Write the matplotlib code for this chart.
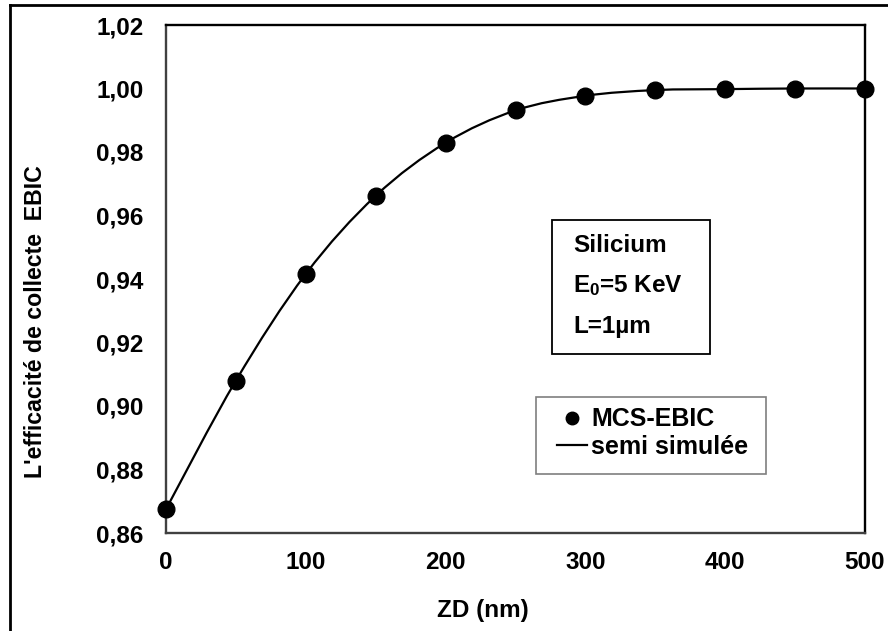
import numpy as np
import matplotlib
matplotlib.use("Agg")
import matplotlib.pyplot as plt
from matplotlib.path import Path
from matplotlib.patches import PathPatch, Rectangle
from matplotlib.lines import Line2D

# collection efficiency vs depletion zone width (ZD)
zd_nm = [0, 50, 100, 150, 200, 250, 300, 350, 400, 450, 500]
mcs_ebic = [0.8675, 0.9080, 0.9416, 0.9662, 0.9829, 0.9931, 0.9977, 0.9995, 0.9998, 1.0000, 1.0000]
semi_simulee = [0.8675, 0.9080, 0.9416, 0.9662, 0.9829, 0.9931, 0.9977, 0.9995, 0.9998, 1.0000, 1.0000]

y_ticks = [0.86, 0.88, 0.90, 0.92, 0.94, 0.96, 0.98, 1.00, 1.02]
x_ticks = [0, 100, 200, 300, 400, 500]
info_lines = ["Silicium", r"E$_{\mathbf{0}}$=5 KeV", "L=1µm"]

W, H = 888, 631
plt.rcParams["font.family"] = "Liberation Sans"
plt.rcParams["font.weight"] = "bold"
plt.rcParams["mathtext.fontset"] = "custom"
plt.rcParams["mathtext.rm"] = "Liberation Sans:bold"
plt.rcParams["mathtext.bf"] = "Liberation Sans:bold"
plt.rcParams["mathtext.default"] = "bf"
FS = 17.5


def px(x, y):
    # pixel position (top-left origin) -> figure fraction
    return x / W, 1 - y / H


def smooth_path(xs, ys, t=1 / 6):
    # Catmull-Rom style cubic segments through every point
    xs = np.asarray(xs, float)
    ys = np.asarray(ys, float)
    verts = [(xs[0], ys[0])]
    codes = [Path.MOVETO]
    n = len(xs)
    for i in range(n - 1):
        i0 = max(i - 1, 0)
        i3 = min(i + 2, n - 1)
        c1 = (xs[i] + (xs[i + 1] - xs[i0]) * t, ys[i] + (ys[i + 1] - ys[i0]) * t)
        c2 = (xs[i + 1] - (xs[i3] - xs[i]) * t, ys[i + 1] - (ys[i3] - ys[i]) * t)
        verts += [c1, c2, (xs[i + 1], ys[i + 1])]
        codes += [Path.CURVE4] * 3
    return Path(verts, codes)


def fig_box(x0, y0, x1, y1, color, lw):
    a, b = px(x0, y1)
    c, d = px(x1, y0)
    fig.patches.append(Rectangle((a, b), c - a, d - b, transform=fig.transFigure,
                                 fill=False, edgecolor=color, lw=lw))


fig = plt.figure(figsize=(W / 100, H / 100), dpi=100)
l, b = px(166, 533)
r, t = px(865, 25)
ax = fig.add_axes([l, b, r - l, t - b])

ax.add_patch(PathPatch(smooth_path(zd_nm, semi_simulee), fill=False,
                       edgecolor="black", lw=1.6, zorder=2))
ax.plot(zd_nm, mcs_ebic, "o", color="black", ms=12, zorder=3, clip_on=False)

ax.set_xlim(0, 500)
ax.set_ylim(0.86, 1.02)
ax.set_xticks(x_ticks)
ax.set_yticks(y_ticks)
ax.set_yticklabels([f"{v:.2f}".replace(".", ",") for v in y_ticks])
ax.tick_params(axis="both", length=0, labelsize=FS)
ax.tick_params(axis="x", pad=13)
ax.tick_params(axis="y", pad=16)
for side, col in [("left", "#404040"), ("bottom", "#404040"), ("top", "black"), ("right", "black")]:
    ax.spines[side].set_color(col)
    ax.spines[side].set_linewidth(1.7)

fig.text(*px(483, 610), "ZD (nm)", fontsize=FS, ha="center", va="center")
fig.text(*px(35, 322), "L'efficacité de collecte  EBIC", fontsize=16.7,
         rotation=90, ha="center", va="center")

# parameter box
fig_box(552, 220, 710, 354, "black", 1.3)
for i, line in enumerate(info_lines):
    fig.text(*px(573, 245 + 41 * i), line, fontsize=FS, ha="left", va="center")

# legend
fig_box(536, 397, 766, 474, "#7f7f7f", 1.2)
handles = [
    Line2D([], [], marker="o", color="black", ls="none", ms=9),
    Line2D([], [], color="black", lw=1.6),
]
fig.legend(handles, ["MCS-EBIC", "semi simulée"], loc="center left",
           bbox_to_anchor=px(557, 433), borderaxespad=0, borderpad=0, fontsize=18,
           frameon=False, handlelength=1.2, handletextpad=0.16, labelspacing=0.12)

# outer frame around the figure
fig.add_artist(Line2D([10 / W, 10 / W], [0, 1 - 5 / H], color="black", lw=2, transform=fig.transFigure))
fig.add_artist(Line2D([10 / W, 1], [1 - 5 / H, 1 - 5 / H], color="black", lw=2, transform=fig.transFigure))

fig.savefig("out.png", dpi=100)
